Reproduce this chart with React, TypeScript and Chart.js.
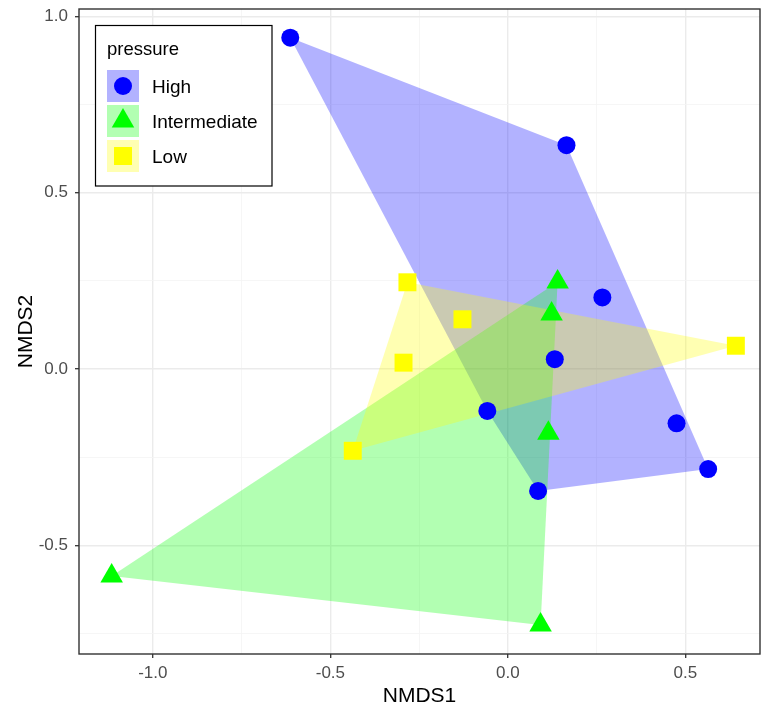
import React, { useEffect, useRef } from 'react';
import { Chart, registerables } from 'chart.js';

Chart.register(...registerables);

// ---- data ----
const seriesNames = ['High', 'Intermediate', 'Low'];
const highX = [-0.613, 0.165, 0.266, 0.132, -0.058, 0.475, 0.564, 0.085];
const highY = [0.94, 0.635, 0.203, 0.028, -0.119, -0.154, -0.284, -0.346];
const intermediateX = [0.14, 0.123, 0.114, -1.116, 0.092];
const intermediateY = [0.247, 0.156, -0.182, -0.587, -0.726];
const lowX = [-0.283, -0.128, -0.294, -0.437, 0.642];
const lowY = [0.246, 0.141, 0.018, -0.232, 0.066];
const xTicks = [-1.0, -0.75, -0.5, -0.25, 0, 0.25, 0.5];
const yTicks = [-0.75, -0.5, -0.25, 0, 0.25, 0.5, 0.75, 1.0];
const xLimits = [-1.208, 0.71];
const yLimits = [-0.8085, 1.0213];
const xTitle = 'NMDS1';
const yTitle = 'NMDS2';
const legendTitle = 'pressure';

// ---- styles ----
const FONT = '"Liberation Sans", Arial, sans-serif';
const pointColors = ['#0000ff', '#00ff00', '#ffff00'];
const fillColors = ['rgba(0,0,255,0.3)', 'rgba(0,255,0,0.3)', 'rgba(255,255,0,0.3)'];
const pointStyles = ['circle', 'triangle', 'rect'];
const pointRadii = [9, 13, 12.7];

type P = { x: number; y: number };

function toPoints(xs: number[], ys: number[]): P[] {
  return xs.map((x, i) => ({ x, y: ys[i] }));
}

function convexHull(pts: P[]): P[] {
  const s = [...pts].sort((a, b) => (a.x === b.x ? a.y - b.y : a.x - b.x));
  const cross = (o: P, a: P, b: P) => (a.x - o.x) * (b.y - o.y) - (a.y - o.y) * (b.x - o.x);
  const lower: P[] = [];
  for (const p of s) {
    while (lower.length >= 2 && cross(lower[lower.length - 2], lower[lower.length - 1], p) <= 0) lower.pop();
    lower.push(p);
  }
  const upper: P[] = [];
  for (let i = s.length - 1; i >= 0; i--) {
    const p = s[i];
    while (upper.length >= 2 && cross(upper[upper.length - 2], upper[upper.length - 1], p) <= 0) upper.pop();
    upper.push(p);
  }
  upper.pop();
  lower.pop();
  const hull = lower.concat(upper);
  hull.push(hull[0]);
  return hull;
}

const isMajor = (v: number) => Math.abs(v * 2 - Math.round(v * 2)) < 1e-6;

const panelBorder = {
  id: 'panelBorder',
  afterDatasetsDraw(chart: any) {
    const { ctx, chartArea: a } = chart;
    ctx.save();
    ctx.strokeStyle = '#333333';
    ctx.lineWidth = 1.4;
    ctx.strokeRect(a.left, a.top, a.right - a.left, a.bottom - a.top);
    ctx.restore();
  },
};

function drawMarker(ctx: CanvasRenderingContext2D, style: string, cx: number, cy: number, r: number, color: string) {
  ctx.fillStyle = color;
  ctx.beginPath();
  if (style === 'circle') {
    ctx.arc(cx, cy, r, 0, Math.PI * 2);
  } else if (style === 'triangle') {
    ctx.moveTo(cx, cy - r);
    ctx.lineTo(cx + r * Math.sin((2 * Math.PI) / 3), cy - r * Math.cos((2 * Math.PI) / 3));
    ctx.lineTo(cx + r * Math.sin((4 * Math.PI) / 3), cy - r * Math.cos((4 * Math.PI) / 3));
    ctx.closePath();
  } else {
    const h = r * Math.SQRT1_2;
    ctx.rect(cx - h, cy - h, 2 * h, 2 * h);
  }
  ctx.fill();
}

const ggLegend = {
  id: 'ggLegend',
  afterDraw(chart: any) {
    const ctx: CanvasRenderingContext2D = chart.ctx;
    const bx = 95.5, by = 25.5, bw = 176.5, bh = 160.5;
    ctx.save();
    ctx.fillStyle = '#ffffff';
    ctx.fillRect(bx, by, bw, bh);
    ctx.strokeStyle = '#000000';
    ctx.lineWidth = 1.2;
    ctx.strokeRect(bx, by, bw, bh);
    ctx.fillStyle = '#000000';
    ctx.font = `18.5px ${FONT}`;
    ctx.textBaseline = 'middle';
    ctx.textAlign = 'left';
    ctx.fillText(legendTitle, 107, 50);
    const keyX = 107, keyW = 32, keyTop = 70, keyStep = 35;
    seriesNames.forEach((name, i) => {
      const ky = keyTop + i * keyStep;
      ctx.fillStyle = '#ffffff';
      ctx.fillRect(keyX, ky, keyW, keyW);
      ctx.fillStyle = fillColors[i];
      ctx.fillRect(keyX, ky, keyW, keyW);
      drawMarker(ctx, pointStyles[i], keyX + keyW / 2, ky + keyW / 2, pointRadii[i], pointColors[i]);
      ctx.fillStyle = '#000000';
      ctx.font = `19px ${FONT}`;
      ctx.fillText(name, 152, ky + keyW / 2 + 2);
    });
    ctx.restore();
  },
};

export default function App() {
  const ref = useRef<HTMLCanvasElement | null>(null);

  useEffect(() => {
    if (!ref.current) return;
    const groups = [toPoints(highX, highY), toPoints(intermediateX, intermediateY), toPoints(lowX, lowY)];

    const polygonSets = groups.map((g, i) => ({
      type: 'line' as const,
      label: seriesNames[i] + ' hull',
      data: convexHull(g),
      fill: 'shape',
      backgroundColor: fillColors[i],
      borderColor: 'rgba(0,0,0,0)',
      borderWidth: 0,
      pointRadius: 0,
      pointHoverRadius: 0,
      tension: 0,
      order: 3 - i,
    }));

    const pointSets = groups.map((g, i) => ({
      type: 'scatter' as const,
      label: seriesNames[i],
      data: g,
      pointStyle: pointStyles[i],
      pointRadius: pointRadii[i],
      pointHoverRadius: pointRadii[i],
      backgroundColor: pointColors[i],
      borderColor: pointColors[i],
      borderWidth: 0,
      order: 0,
    }));

    const gridOpts = {
      color: (c: any) => (isMajor(c.tick.value) ? '#ebebeb' : '#f4f4f4'),
      lineWidth: (c: any) => (isMajor(c.tick.value) ? 1.4 : 0.8),
      tickColor: (c: any) => (isMajor(c.tick.value) ? '#333333' : 'rgba(0,0,0,0)'),
      tickWidth: 1.3,
      tickLength: 4,
      drawTicks: true,
    };

    const chart = new Chart(ref.current, {
      type: 'scatter',
      data: { datasets: [...pointSets, ...polygonSets] as any },
      options: {
        animation: false,
        responsive: false,
        devicePixelRatio: 1,
        layout: { autoPadding: false, padding: { left: 0, top: 9, right: 1, bottom: 0 } },
        plugins: { legend: { display: false }, tooltip: { enabled: false } },
        scales: {
          x: {
            type: 'linear',
            min: xLimits[0],
            max: xLimits[1],
            afterBuildTicks: (s: any) => {
              s.ticks = xTicks.map((v) => ({ value: v }));
            },
            afterFit: (s: any) => {
              s.height = 57;
              s.paddingLeft = 0;
              s.paddingRight = 0;
            },
            ticks: {
              autoSkip: false,
              maxRotation: 0,
              padding: 5,
              color: '#4d4d4d',
              font: { family: FONT, size: 17 },
              callback: (v: any) => (isMajor(Number(v)) ? Number(v).toFixed(1) : ''),
            },
            grid: gridOpts as any,
            border: { display: false },
            title: {
              display: true,
              text: xTitle,
              color: '#000000',
              font: { family: FONT, size: 21 },
              padding: { top: 0, bottom: 2 },
            },
          },
          y: {
            type: 'linear',
            min: yLimits[0],
            max: yLimits[1],
            afterBuildTicks: (s: any) => {
              s.ticks = yTicks.map((v) => ({ value: v }));
            },
            afterFit: (s: any) => {
              s.width = 79;
              s.paddingTop = 0;
              s.paddingBottom = 0;
            },
            ticks: {
              autoSkip: false,
              padding: 7,
              color: '#4d4d4d',
              font: { family: FONT, size: 17 },
              callback: (v: any) => (isMajor(Number(v)) ? Number(v).toFixed(1) : ''),
            },
            grid: gridOpts as any,
            border: { display: false },
            title: {
              display: true,
              text: yTitle,
              color: '#000000',
              font: { family: FONT, size: 21 },
              padding: { top: 14, bottom: 0 },
            },
          },
        },
      } as any,
      plugins: [panelBorder, ggLegend],
    });

    return () => chart.destroy();
  }, []);

  return (
    <div style={{ position: 'absolute', left: 0, top: 0, width: 761, height: 711, background: '#ffffff' }}>
      <canvas ref={ref} width={761} height={711} style={{ display: 'block', width: 761, height: 711 }} />
    </div>
  );
}
